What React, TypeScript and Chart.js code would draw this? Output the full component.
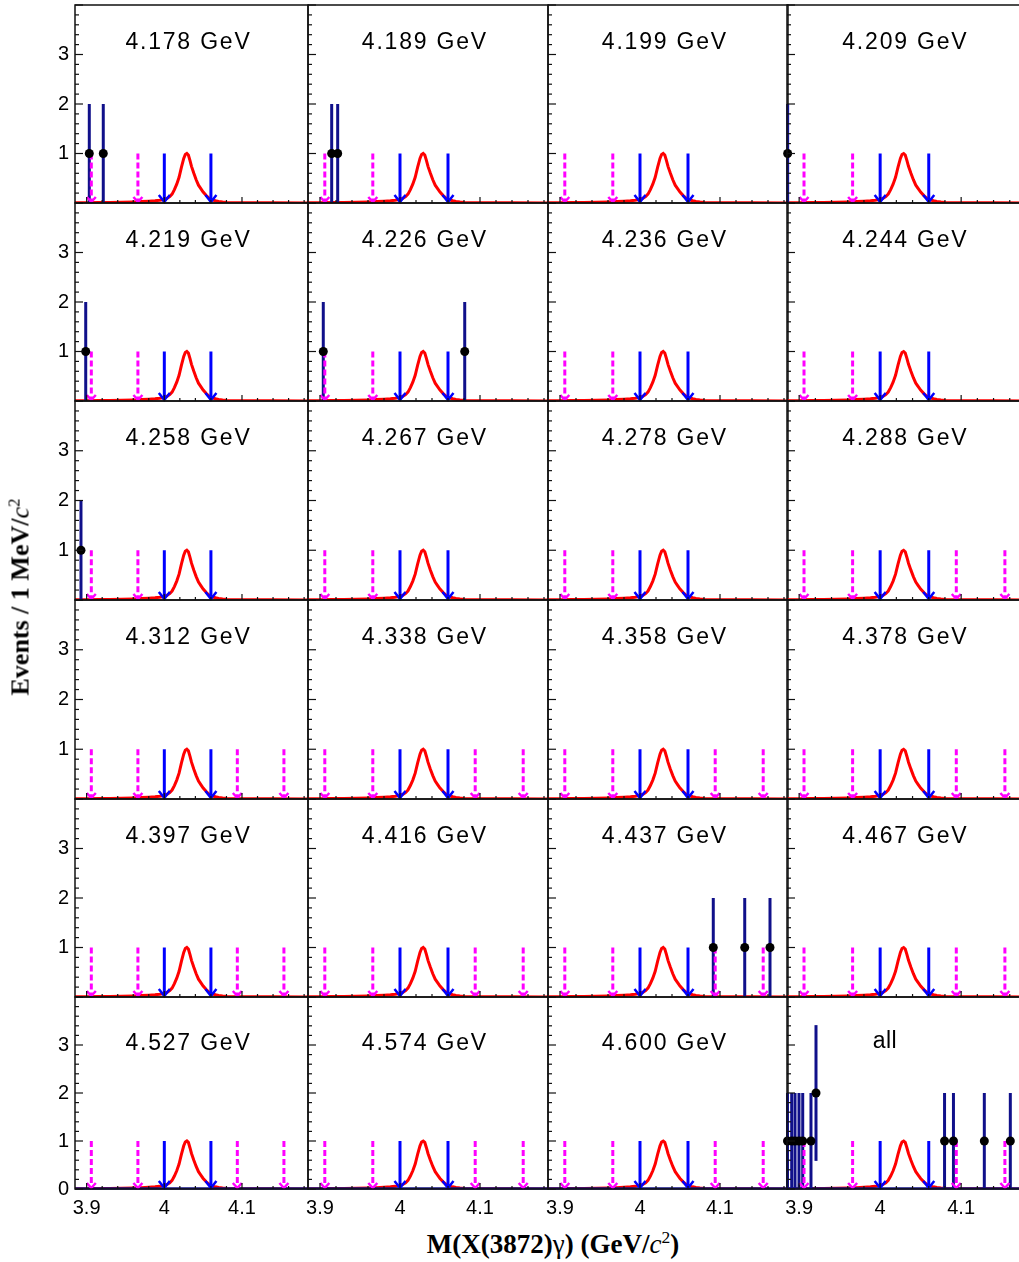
import React, { useEffect, useRef } from 'react';
import { Chart, registerables } from 'chart.js';
Chart.register(...registerables);

// ---------------- data ----------------
const panelLabels = [
  '4.178 GeV', '4.189 GeV', '4.199 GeV', '4.209 GeV',
  '4.219 GeV', '4.226 GeV', '4.236 GeV', '4.244 GeV',
  '4.258 GeV', '4.267 GeV', '4.278 GeV', '4.288 GeV',
  '4.312 GeV', '4.338 GeV', '4.358 GeV', '4.378 GeV',
  '4.397 GeV', '4.416 GeV', '4.437 GeV', '4.467 GeV',
  '4.527 GeV', '4.574 GeV', '4.600 GeV', 'all',
];

const xTickValues = [3.9, 4.0, 4.1];
const yTickValuesBottom = [0, 1, 2, 3];
const yTickValuesOther = [1, 2, 3];
const xRange = [3.885, 4.185];
const yRange = [0, 4];

const signalEdges = [4.0, 4.06];
const leftSidebandEdges = [3.906, 3.966];
const rightSidebandEdges = [4.094, 4.154];
const rightSidebandShown = [
  0, 0, 0, 0,
  0, 0, 0, 0,
  0, 0, 0, 1,
  1, 1, 1, 1,
  1, 1, 1, 1,
  1, 1, 1, 1,
];

// signal MC shape (normalised to peak = 1)
const curveX = [3.885, 3.9, 3.915, 3.93, 3.945, 3.96, 3.97, 3.98, 3.988, 3.994, 3.999, 4.003, 4.007, 4.01, 4.013, 4.016, 4.019, 4.022, 4.025, 4.027, 4.029, 4.031, 4.033, 4.035, 4.038, 4.041, 4.044, 4.047, 4.05, 4.054, 4.058, 4.062, 4.066, 4.07, 4.075, 4.08, 4.09, 4.11, 4.14, 4.185];
const curveY = [0.004, 0.006, 0.008, 0.012, 0.016, 0.022, 0.028, 0.036, 0.045, 0.055, 0.07, 0.09, 0.13, 0.18, 0.27, 0.38, 0.52, 0.72, 0.9, 0.98, 1.0, 0.97, 0.86, 0.74, 0.6, 0.47, 0.36, 0.29, 0.22, 0.15, 0.09, 0.06, 0.045, 0.033, 0.02, 0.012, 0.007, 0.004, 0.003, 0.002];

// events per panel: [mass, count, error]
const events: [number, number, number][][] = [
  [[3.9034, 1, 1], [3.9214, 1, 1]],
  [[3.9146, 1, 1], [3.9221, 1, 1]],
  [],
  [[3.8858, 1, 1]],
  [[3.8988, 1, 1]],
  [[3.9041, 1, 1], [4.0809, 1, 1]],
  [],
  [],
  [[3.8927, 1, 1]],
  [], [], [],
  [], [], [], [],
  [], [], [[4.0916, 1, 1], [4.1309, 1, 1], [4.1625, 1, 1]], [],
  [], [], [],
  [[3.8856, 1, 1], [3.8908, 1, 1], [3.8949, 1, 1], [3.8998, 1, 1], [3.9044, 1, 1], [3.9146, 1, 1], [3.9208, 2, 1.414], [4.0795, 1, 1], [4.0905, 1, 1], [4.1286, 1, 1], [4.1607, 1, 1]],
];

// ---------------- layout ----------------
const colLeft = [75, 308, 548, 787];
const colWidth = [233, 240, 240, 243];
const rowTop = [5, 203, 401, 600, 799, 997];
const rowHeight = [198, 198, 199, 199, 198, 192];

const SANS = '"Liberation Sans", Arial, sans-serif';
const SERIF = '"Liberation Serif", "Times New Roman", serif';

function geom(idx: number) {
  const row = Math.floor(idx / 4);
  const col = idx % 4;
  const padL = col === 0 ? 75 : 8;
  const padR = 8;
  const padT = 8;
  const padB = row === 5 ? 34 : 8;
  return {
    row, col, padL, padR, padT, padB,
    x: colLeft[col] - padL,
    y: rowTop[row] - padT,
    W: colWidth[col] + padL + padR,
    H: rowHeight[row] + padT + padB,
  };
}

function drawArrow(ctx: CanvasRenderingContext2D, x: number, yTop: number, yTip: number, color: string, dashed: boolean) {
  ctx.save();
  ctx.strokeStyle = color;
  ctx.lineWidth = 3;
  ctx.lineCap = 'butt';
  if (dashed) ctx.setLineDash([6, 3]);
  ctx.beginPath();
  ctx.moveTo(x, yTop);
  ctx.lineTo(x, yTip - 1);
  ctx.stroke();
  ctx.setLineDash([]);
  ctx.lineWidth = 2.5;
  ctx.beginPath();
  const hw = dashed ? 4.5 : 5.5;
  const hh = dashed ? 6 : 8;
  ctx.moveTo(x - hw, yTip - hh);
  ctx.lineTo(x, yTip - 1);
  ctx.lineTo(x + hw, yTip - hh);
  ctx.stroke();
  ctx.restore();
}

function fmtX(v: number) {
  return String(Math.round(v * 10) / 10);
}

export default function App() {
  const refs = useRef<(HTMLCanvasElement | null)[]>([]);

  useEffect(() => {
    const charts: Chart[] = [];
    panelLabels.forEach((label, idx) => {
      const canvas = refs.current[idx];
      if (!canvas) return;
      const g = geom(idx);
      const isLeft = g.col === 0;
      const isBottom = g.row === 5;
      const ev = events[idx];

      const overlay = {
        id: 'overlay' + idx,
        afterDatasetDraw(chart: any, args: any) {
          if (args.index !== 0) return;
          const ctx: CanvasRenderingContext2D = chart.ctx;
          const xs = chart.scales.x;
          const ys = chart.scales.y;
          const y0 = ys.getPixelForValue(0);
          const y1 = ys.getPixelForValue(1);
          if (isBottom) {
            ctx.save();
            ctx.strokeStyle = '#101080';
            ctx.lineWidth = 2.5;
            ctx.beginPath();
            ctx.moveTo(chart.chartArea.left, y0 - 0.5);
            ctx.lineTo(chart.chartArea.right, y0 - 0.5);
            ctx.stroke();
            ctx.restore();
          }
          // error bars
          ctx.save();
          ctx.strokeStyle = '#10108a';
          ctx.lineWidth = 3;
          ev.forEach(([m, n, e]) => {
            const px = xs.getPixelForValue(m);
            ctx.beginPath();
            ctx.moveTo(px, ys.getPixelForValue(n + e));
            ctx.lineTo(px, ys.getPixelForValue(Math.max(0, n - e)));
            ctx.stroke();
          });
          ctx.restore();
          // signal region arrows
          signalEdges.forEach((m) => drawArrow(ctx, xs.getPixelForValue(m), y1, y0, '#0000ff', false));
          // sideband arrows
          leftSidebandEdges.forEach((m) => drawArrow(ctx, xs.getPixelForValue(m), y1, y0, '#ff00ff', true));
          if (rightSidebandShown[idx]) {
            rightSidebandEdges.forEach((m) => drawArrow(ctx, xs.getPixelForValue(m), y1, y0, '#ff00ff', true));
          }
        },
        afterDraw(chart: any) {
          const ctx: CanvasRenderingContext2D = chart.ctx;
          const { left, right, top, bottom } = chart.chartArea;
          const xs = chart.scales.x;
          const ys = chart.scales.y;
          ctx.save();
          ctx.strokeStyle = '#111';
          ctx.lineWidth = 1.5;
          ctx.strokeRect(left, top, right - left, bottom - top);
          ctx.lineWidth = 1.2;
          // y ticks (inward, from the left edge)
          for (let k = 0; k <= 20; k++) {
            const v = k * 0.2;
            const py = ys.getPixelForValue(v);
            const len = k % 5 === 0 ? 8 : 4;
            ctx.beginPath();
            ctx.moveTo(left, py);
            ctx.lineTo(left + len, py);
            ctx.stroke();
          }
          // x ticks (inward, from the bottom edge)
          for (let k = 195; k <= 209; k++) {
            const v = k * 0.02;
            const px = xs.getPixelForValue(v);
            if (px < left || px > right) continue;
            const len = k % 5 === 0 ? 6 : 3;
            ctx.beginPath();
            ctx.moveTo(px, bottom);
            ctx.lineTo(px, bottom - len);
            ctx.stroke();
          }
          // panel title
          const isAll = label === 'all';
          ctx.fillStyle = '#000';
          ctx.font = `23px ${SANS}`;
          try { (ctx as any).letterSpacing = isAll ? '0.5px' : '1.8px'; } catch (e) { /* ignore */ }
          ctx.textAlign = 'center';
          ctx.textBaseline = 'alphabetic';
          const w = right - left;
          const cx = left + (isAll ? 0.403 : 0.487) * w;
          const by = top + (g.row === 5 ? (isAll ? 51 : 53) : 43.5);
          ctx.fillText(label, cx, by);
          ctx.restore();
        },
      };

      const chart = new Chart(canvas, {
        type: 'scatter',
        data: {
          datasets: [
            {
              data: curveX.map((x, i) => ({ x, y: curveY[i] })),
              showLine: true,
              borderColor: '#ff0000',
              backgroundColor: '#ff0000',
              borderWidth: 3,
              pointRadius: 0,
              tension: 0,
              order: 2,
            } as any,
            {
              data: ev.map(([m, n]) => ({ x: m, y: n })),
              pointRadius: 4.5,
              pointHoverRadius: 4.5,
              backgroundColor: '#000',
              borderColor: '#000',
              borderWidth: 0,
              clip: false,
              order: 1,
            } as any,
          ],
        },
        options: {
          animation: false,
          responsive: false,
          maintainAspectRatio: false,
          events: [],
          layout: {
            padding: {
              left: isLeft ? 0 : g.padL,
              right: g.padR,
              top: g.padT,
              bottom: isBottom ? 0 : g.padB,
            },
          },
          plugins: {
            legend: { display: false },
            tooltip: { enabled: false },
            title: { display: false },
          },
          scales: {
            x: {
              type: 'linear',
              min: xRange[0],
              max: xRange[1],
              display: isBottom,
              grid: { display: false, drawTicks: false },
              border: { display: false },
              ticks: {
                color: '#000',
                font: { family: SANS, size: 20 },
                padding: 7,
                maxRotation: 0,
                autoSkip: false,
                callback: (v: any) => fmtX(Number(v)),
              },
              afterBuildTicks: (s: any) => {
                s.ticks = xTickValues.map((v) => ({ value: v }));
              },
              afterFit: (s: any) => {
                if (isBottom) s.height = g.padB;
                s.paddingLeft = 0;
                s.paddingRight = 0;
                s.paddingTop = 0;
                s.paddingBottom = 0;
              },
            } as any,
            y: {
              type: 'linear',
              min: yRange[0],
              max: yRange[1],
              display: isLeft,
              grid: { display: false, drawTicks: false },
              border: { display: false },
              ticks: {
                color: '#000',
                font: { family: SANS, size: 20 },
                padding: 6,
                callback: (v: any) => String(v),
              },
              afterBuildTicks: (s: any) => {
                s.ticks = (isBottom ? yTickValuesBottom : yTickValuesOther).map((v) => ({ value: v }));
              },
              afterFit: (s: any) => {
                if (isLeft) s.width = g.padL;
                s.paddingLeft = 0;
                s.paddingRight = 0;
                s.paddingTop = 0;
                s.paddingBottom = 0;
              },
            } as any,
          },
        },
        plugins: [overlay],
      });
      charts.push(chart);
    });
    return () => charts.forEach((c) => c.destroy());
  }, []);

  return (
    <div style={{ position: 'absolute', left: 0, top: 0, width: 1019, height: 1262, overflow: 'hidden', background: '#fff' }}>
      {panelLabels.map((l, idx) => {
        const g = geom(idx);
        return (
          <canvas
            key={idx}
            ref={(el) => { refs.current[idx] = el; }}
            width={g.W}
            height={g.H}
            style={{ position: 'absolute', left: g.x, top: g.y, width: g.W, height: g.H }}
          />
        );
      })}
      <div
        style={{
          position: 'absolute', left: 22, top: 597,
          transform: 'translate(-50%, -50%) rotate(-90deg)',
          font: `bold 26px ${SERIF}`, whiteSpace: 'nowrap', color: '#000', lineHeight: '30px',
        }}
      >
        Events / 1 MeV/<span style={{ fontStyle: 'italic', fontWeight: 'normal' }}>c</span>
        <span style={{ fontSize: '0.65em', position: 'relative', top: '-0.55em', fontWeight: 'normal' }}>2</span>
      </div>
      <div
        style={{
          position: 'absolute', left: 553, top: 1245,
          transform: 'translate(-50%, -50%)',
          font: `bold 27px ${SERIF}`, whiteSpace: 'nowrap', color: '#000', lineHeight: '30px',
        }}
      >
        M(X(3872)<span style={{ fontWeight: 'normal' }}>γ</span>) (GeV/<span style={{ fontStyle: 'italic', fontWeight: 'normal' }}>c</span>
        <span style={{ fontSize: '0.65em', position: 'relative', top: '-0.55em', fontWeight: 'normal' }}>2</span>)
      </div>
    </div>
  );
}
